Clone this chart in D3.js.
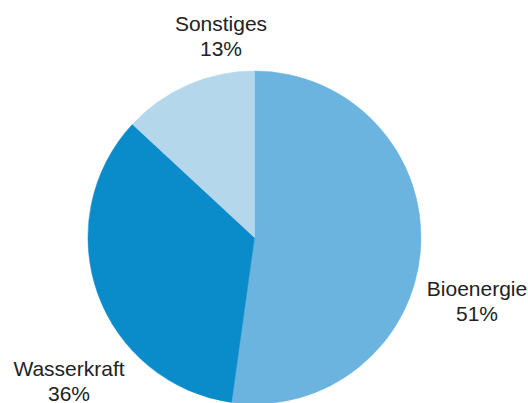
<!DOCTYPE html>
<html>
<head>
<meta charset="utf-8">
<script src="https://cdn.jsdelivr.net/npm/d3@7"></script>
<style>
  html, body { margin: 0; padding: 0; background: #ffffff; overflow: hidden; }
  svg { display: block; }
  text { font-family: "Liberation Sans", Arial, sans-serif; fill: #222222; }
</style>
</head>
<body>
<svg id="chart" width="528" height="403"></svg>
<script>
// ---- data ----
const categories = ["Bioenergie", "Wasserkraft", "Sonstiges"];
const values = [52.2, 34.7, 13.1];
const percentLabels = ["51%", "36%", "13%"];
const colors = ["#6cb4e0", "#0a8bca", "#b4d7ec"];

// ---- layout (label anchor placement, not data) ----
const width = 528, height = 403;
const cx = 254.5, cy = 237.5, radius = 166.5;
const labelPos = [
  { x: 477, y: 296 },   // Bioenergie
  { x: 69,  y: 376 },   // Wasserkraft
  { x: 221, y: 31 }     // Sonstiges
];
const lineGap = 25;
const fontSize = 21;

const svg = d3.select("#chart");
const g = svg.append("g").attr("transform", `translate(${cx},${cy})`);

const data = categories.map((c, i) => ({ name: c, value: values[i], pct: percentLabels[i], color: colors[i], pos: labelPos[i] }));

const pie = d3.pie().value(d => d.value).sort(null).startAngle(0).endAngle(2 * Math.PI);
const arc = d3.arc().innerRadius(0).outerRadius(radius);

g.selectAll("path.slice")
  .data(pie(data))
  .join("path")
  .attr("class", "slice")
  .attr("d", arc)
  .attr("fill", d => d.data.color)
  .attr("stroke", d => d.data.color)
  .attr("stroke-width", 0.5);

const labels = svg.selectAll("g.label")
  .data(data)
  .join("g")
  .attr("class", "label")
  .attr("transform", d => `translate(${d.pos.x},${d.pos.y})`);

labels.append("text")
  .attr("text-anchor", "middle")
  .attr("font-size", fontSize)
  .text(d => d.name);

labels.append("text")
  .attr("text-anchor", "middle")
  .attr("font-size", fontSize)
  .attr("y", lineGap)
  .text(d => d.pct);
</script>
</body>
</html>
